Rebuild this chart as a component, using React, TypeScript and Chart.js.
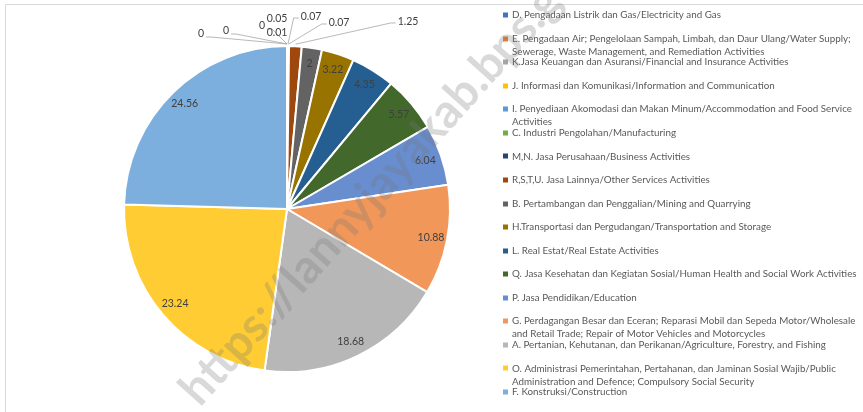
import React, { useEffect, useRef } from 'react';
import { Chart, registerables } from 'chart.js';

Chart.register(...registerables);

const categories: string[][] = [
  ['D. Pengadaan Listrik dan Gas/Electricity and Gas'],
  ['E. Pengadaan Air; Pengelolaan Sampah, Limbah, dan Daur Ulang/Water Supply;', 'Sewerage, Waste Management, and Remediation Activities'],
  ['K.Jasa Keuangan dan Asuransi/Financial and Insurance Activities'],
  ['J. Informasi dan Komunikasi/Information and Communication'],
  ['I. Penyediaan Akomodasi dan Makan Minum/Accommodation and Food Service', 'Activities'],
  ['C. Industri Pengolahan/Manufacturing'],
  ['M,N. Jasa Perusahaan/Business Activities'],
  ['R,S,T,U. Jasa Lainnya/Other Services Activities'],
  ['B. Pertambangan dan Penggalian/Mining and Quarrying'],
  ['H.Transportasi dan Pergudangan/Transportation and Storage'],
  ['L. Real Estat/Real Estate Activities'],
  ['Q. Jasa Kesehatan dan Kegiatan Sosial/Human Health and Social Work Activities'],
  ['P. Jasa Pendidikan/Education'],
  ['G. Perdagangan Besar dan Eceran; Reparasi Mobil dan Sepeda Motor/Wholesale', 'and Retail Trade; Repair of Motor Vehicles and Motorcycles'],
  ['A. Pertanian, Kehutanan, dan Perikanan/Agriculture, Forestry, and Fishing'],
  ['O. Administrasi Pemerintahan, Pertahanan, dan Jaminan Sosial Wajib/Public', 'Administration and Defence; Compulsory Social Security'],
  ['F. Konstruksi/Construction'],
];

const values: number[] = [0, 0, 0, 0.05, 0.01, 0.07, 0.07, 1.25, 2, 3.22, 4.35, 5.57, 6.04, 10.88, 18.68, 23.24, 24.56];

const colors: string[] = [
  '#4472C4', '#ED7D31', '#A5A5A5', '#FFC000', '#5B9BD5', '#70AD47', '#264478', '#9E480E',
  '#636363', '#997300', '#255E91', '#43682B', '#698ED0', '#F1975A', '#B7B7B7', '#FFCD33', '#7CAFDD',
];

// callout label layout (offset of label centre from pie centre) for the tiny slices
const calloutOffsets: [number, number][] = [
  [-86, -175], [-61, -178], [-25, -183], [-10, -190], [-10, -176], [24, -192], [52, -186], [121, -187],
];

const watermark = 'https://lannyjayakab.bps.go.id';
const FONT = 'Lato, "Open Sans", sans-serif';

const overlayPlugin = {
  id: 'overlay',
  afterDraw(chart: any) {
    const ctx: CanvasRenderingContext2D = chart.ctx;
    const meta = chart.getDatasetMeta(0);
    ctx.save();

    // frame
    ctx.strokeStyle = '#d9d9d9';
    ctx.lineWidth = 1;
    ctx.beginPath();
    ctx.moveTo(5.5, 412);
    ctx.lineTo(5.5, 4.5);
    ctx.lineTo(863, 4.5);
    ctx.stroke();

    // data labels
    ctx.font = `10.5px ${FONT}`;
    ctx.fillStyle = '#404040';
    ctx.textAlign = 'center';
    ctx.textBaseline = 'middle';
    meta.data.forEach((arc: any, i: number) => {
      const p = arc.getProps(['x', 'y', 'startAngle', 'endAngle', 'outerRadius'], true);
      const mid = (p.startAngle + p.endAngle) / 2;
      const text = String(values[i]);
      if (i < calloutOffsets.length) {
        const [dx, dy] = calloutOffsets[i];
        const lx = p.x + dx;
        const ly = p.y + dy;
        ctx.fillStyle = '#404040';
        ctx.fillText(text, lx, ly);
        const ax = p.x + Math.cos(mid) * (p.outerRadius + 2);
        const ay = p.y + Math.sin(mid) * (p.outerRadius + 2);
        const w = ctx.measureText(text).width;
        if (i === 3 || i === 4) return;
        ctx.strokeStyle = '#a6a6a6';
        ctx.lineWidth = 0.8;
        ctx.beginPath();
        if (lx < ax) {
          const sx = lx + w / 2 + 2;
          const sy = ly + 3;
          ctx.moveTo(sx, sy);
          ctx.lineTo(sx + 5, sy);
        } else {
          const sx = lx - w / 2 - 2;
          const sy = ly + 1;
          ctx.moveTo(sx, sy);
          ctx.lineTo(sx - 5, sy);
        }
        ctx.lineTo(ax, ay);
        ctx.stroke();
      } else {
        const r = p.outerRadius * 0.9;
        ctx.fillStyle = '#404040';
        ctx.fillText(text, p.x + Math.cos(mid) * r, p.y + Math.sin(mid) * r);
      }
    });

    // legend
    ctx.font = `10px ${FONT}`;
    const ref = ctx.measureText(categories[0][0]).width;
    const size = (10 * 209) / ref;
    ctx.font = `${size}px ${FONT}`;
    ctx.textAlign = 'left';
    ctx.textBaseline = 'middle';
    const step = (392 - 15) / (categories.length - 1);
    categories.forEach((lines, i) => {
      const y = 15 + i * step;
      ctx.fillStyle = colors[i];
      ctx.fillRect(503, Math.round(y) - 2.5, 5, 5);
      ctx.fillStyle = '#595959';
      lines.forEach((line, j) => ctx.fillText(line, 512, y + j * 13));
    });

    // watermark
    ctx.translate(200, 408);
    ctx.rotate((-48 * Math.PI) / 180);
    ctx.font = `bold 47px ${FONT}`;
    ctx.fillStyle = 'rgba(120,120,120,0.28)';
    ctx.textAlign = 'left';
    ctx.textBaseline = 'alphabetic';
    ctx.fillText(watermark, 0, 0);
    ctx.restore();
  },
};

export default function App() {
  const ref = useRef<HTMLCanvasElement | null>(null);
  useEffect(() => {
    if (!ref.current) return;
    const chart = new Chart(ref.current, {
      type: 'pie',
      data: {
        labels: categories,
        datasets: [
          {
            data: values,
            backgroundColor: colors,
            borderColor: '#ffffff',
            borderWidth: 2,
            radius: 163,
          } as any,
        ],
      },
      options: {
        animation: false,
        responsive: false,
        events: [],
        layout: { padding: { left: 0, right: 289, top: 6, bottom: 0 } },
        plugins: { legend: { display: false }, tooltip: { enabled: false } },
      },
      plugins: [overlayPlugin],
    });
    return () => chart.destroy();
  }, []);
  return (
    <div style={{ position: 'fixed', left: 0, top: 0, width: 863, height: 412, background: '#fff' }}>
      <canvas ref={ref} width={863} height={412} style={{ display: 'block' }} />
    </div>
  );
}
